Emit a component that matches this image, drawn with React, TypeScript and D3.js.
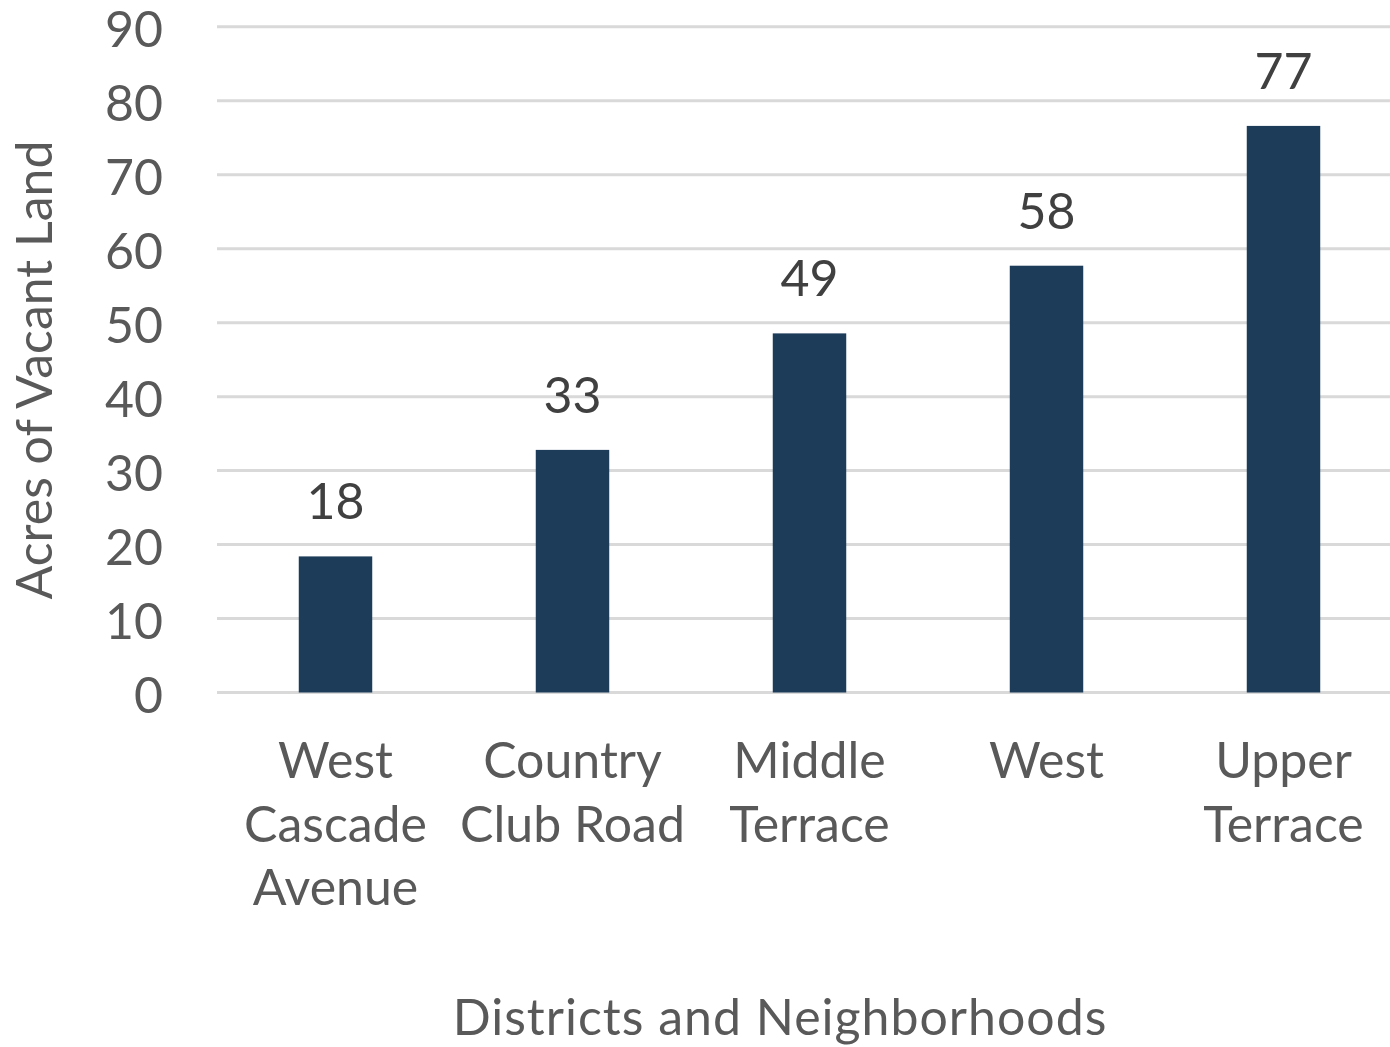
import React from "react";
import * as d3 from "d3";

const categories = ["West Cascade Avenue", "Country Club Road", "Middle Terrace", "West", "Upper Terrace"];
const categoryLines = [
  ["West", "Cascade", "Avenue"],
  ["Country", "Club Road"],
  ["Middle", "Terrace"],
  ["West"],
  ["Upper", "Terrace"],
];
const values = [18.4, 32.8, 48.55, 57.7, 76.6];
const yTicks = [0, 10, 20, 30, 40, 50, 60, 70, 80, 90];
const yTitle = "Acres of Vacant Land";
const xTitle = "Districts and Neighborhoods";

const W = 1390;
const H = 1047;
const FONT = "Lato, 'Open Sans', sans-serif";

export default function App() {
  const x = d3.scaleBand<string>().domain(categories).range([217, 1402]).paddingInner(0.69).paddingOuter(0.345);
  const y = d3.scaleLinear().domain([0, 90]).range([692.5, 26.8]);
  const fmt = d3.format(".0f");
  const lineH = 63.5;

  return (
    <svg width={W} height={H} style={{ position: "absolute", left: 0, top: 0, background: "#fff" }} fontFamily={FONT}>
      <g>
        {yTicks.map((t) => (
          <line key={"g" + t} x1={217} x2={W} y1={y(t)} y2={y(t)} stroke="#d9d9d9" strokeWidth={3} />
        ))}
      </g>
      <g>
        {yTicks.map((t) => (
          <text key={"t" + t} x={163} y={y(t) + 20} textAnchor="end" fontSize={50} fill="#595959">
            {t}
          </text>
        ))}
      </g>
      <g>
        {categories.map((c, i) => (
          <rect
            key={c}
            x={x(c)!}
            y={y(values[i])}
            width={x.bandwidth()}
            height={y(0) - y(values[i])}
            fill="#1d3c5a"
          />
        ))}
      </g>
      <g>
        {categories.map((c, i) => (
          <text
            key={"v" + c}
            x={x(c)! + x.bandwidth() / 2}
            y={y(values[i]) - 37}
            textAnchor="middle"
            fontSize={50}
            fill="#404040"
          >
            {fmt(values[i])}
          </text>
        ))}
      </g>
      <g>
        {categories.map((c, i) => (
          <text key={"c" + c} textAnchor="middle" fontSize={50} fill="#595959">
            {categoryLines[i].map((ln, j) => (
              <tspan key={j} x={x(c)! + x.bandwidth() / 2} y={778 + j * lineH}>
                {ln}
              </tspan>
            ))}
          </text>
        ))}
      </g>
      <text transform={`translate(52, 370) rotate(-90)`} textAnchor="middle" fontSize={50} fill="#595959">
        {yTitle}
      </text>
      <text x={780} y={1035} textAnchor="middle" fontSize={50} letterSpacing={1} fill="#595959">
        {xTitle}
      </text>
    </svg>
  );
}
